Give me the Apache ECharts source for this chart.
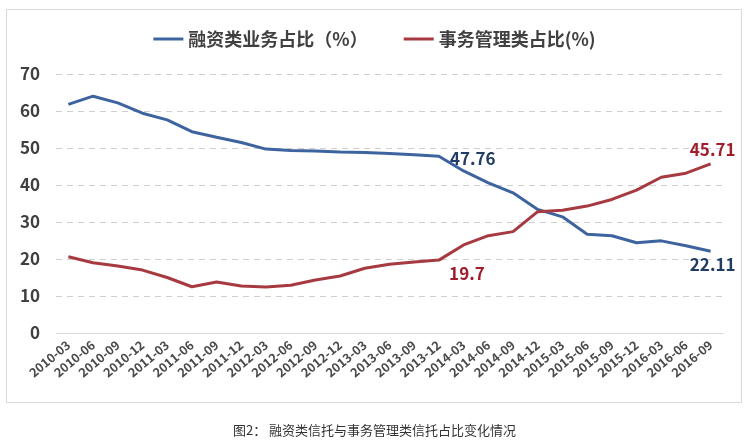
<!DOCTYPE html>
<html><head><meta charset="utf-8">
<script src="https://cdn.jsdelivr.net/npm/echarts@6/dist/echarts.min.js"></script>
<style>html,body{margin:0;padding:0;background:#fff}#c{width:749px;height:443px}</style>
</head><body><div id="c"></div>
<script>
var categories = ['2010-03','2010-06','2010-09','2010-12','2011-03','2011-06','2011-09','2011-12','2012-03','2012-06','2012-09','2012-12','2013-03','2013-06','2013-09','2013-12','2014-03','2014-06','2014-09','2014-12','2015-03','2015-06','2015-09','2015-12','2016-03','2016-06','2016-09'];
var financing = [61.8,64.0,62.2,59.4,57.6,54.4,52.9,51.5,49.7,49.3,49.2,48.9,48.8,48.5,48.2,47.76,43.8,40.6,37.9,33.4,31.4,26.7,26.3,24.4,24.9,23.6,22.11];
var management = [20.6,19.0,18.1,17.0,15.0,12.5,13.8,12.7,12.4,12.9,14.3,15.4,17.5,18.6,19.2,19.7,23.8,26.3,27.4,32.8,33.2,34.3,36.1,38.6,42.1,43.2,45.71];
var seriesNames = ['融资类业务占比（%）','事务管理类占比(%)'];
var caption = '图2： 融资类信托与事务管理类信托占比变化情况';

var font = '"Microsoft YaHei","Noto Sans CJK SC",sans-serif';
var chart = echarts.init(document.getElementById('c'));
var fData = financing.map(function(v,i){
  if(i===15) return {value:v,label:{show:true,position:'right',offset:[6,2],color:'#223d63',fontSize:17,fontWeight:'bold',fontFamily:font}};
  if(i===26) return {value:v,label:{show:true,position:'bottom',distance:5,offset:[2,0],color:'#223d63',fontSize:17,fontWeight:'bold',fontFamily:font}};
  return v;
});
var mData = management.map(function(v,i){
  if(i===15) return {value:v,label:{show:true,position:'bottom',offset:[28,0],color:'#a11d2c',fontSize:17,fontWeight:'bold',fontFamily:font}};
  if(i===26) return {value:v,label:{show:true,position:'top',distance:6,offset:[2,0],color:'#a11d2c',fontSize:17,fontWeight:'bold',fontFamily:font}};
  return v;
});
chart.setOption({
  animation:false,
  graphic:[{type:'rect',shape:{x:6.5,y:9.5,width:735,height:393},style:{fill:'none',stroke:'#d9d9d9',lineWidth:1}}],
  title:{text:caption,left:'center',top:419,textStyle:{fontSize:13,fontWeight:'normal',color:'#333',fontFamily:font}},
  legend:{top:25,left:'center',itemWidth:30,itemHeight:3,itemGap:36,icon:'rect',
    textStyle:{fontSize:18,fontWeight:'bold',color:'#404040',fontFamily:font},
    data:seriesNames},
  grid:{left:56,right:26,top:74,bottom:110},
  xAxis:{type:'category',data:categories,boundaryGap:true,
    axisLine:{lineStyle:{color:'#d9d9d9',width:1}},axisTick:{show:false},
    axisLabel:{rotate:40,interval:0,margin:10,fontSize:12.5,fontWeight:'bold',color:'#4a4a4a',fontFamily:font}},
  yAxis:{type:'value',min:0,max:70,interval:10,
    axisLine:{show:false},axisTick:{show:false},
    axisLabel:{fontSize:17,fontWeight:'bold',color:'#404040',margin:16,fontFamily:font},
    splitLine:{lineStyle:{color:'#cfcfcf',type:[6,5],width:1}}},
  series:[
    {name:seriesNames[0],type:'line',data:fData,showSymbol:true,symbol:'circle',symbolSize:0,lineStyle:{color:'#3e64a0',width:3},itemStyle:{color:'#3e64a0'}},
    {name:seriesNames[1],type:'line',data:mData,showSymbol:true,symbol:'circle',symbolSize:0,lineStyle:{color:'#a63a40',width:3},itemStyle:{color:'#a63a40'}}
  ]
});
</script></body></html>
